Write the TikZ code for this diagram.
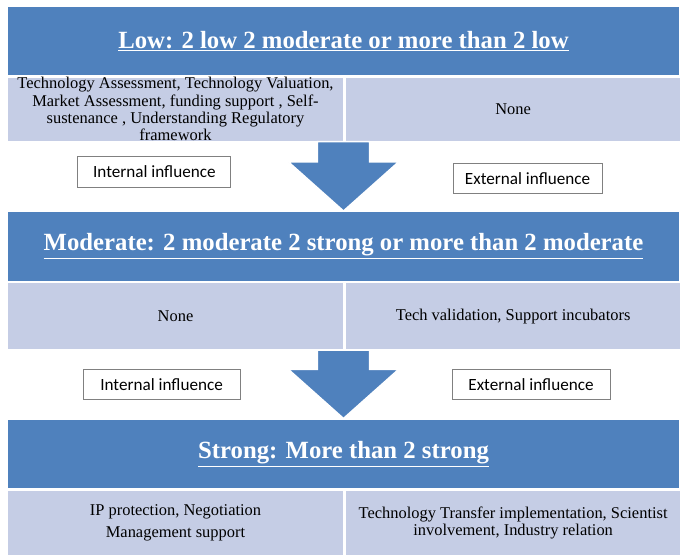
\documentclass[tikz,border=0pt]{standalone}
\usepackage{fontspec}
\setmainfont{Liberation Serif}
\newfontfamily\boxfont{Carlito}
\usetikzlibrary{calc, positioning}
\definecolor{lvhead}{HTML}{4F81BD}
\definecolor{lvrow}{HTML}{C5CDE5}
\definecolor{lvline}{HTML}{808080}
\tikzset{
  every picture/.style={line join=miter},
  level/.style={rectangle, draw=white, line width=0.8pt, fill=lvhead, text=white,
    minimum width=16.825cm, minimum height=1.75cm, inner sep=0pt,
    font=\fontsize{17.6}{20}\selectfont\bfseries},
  cell/.style={rectangle, draw=white, line width=0.8pt, fill=lvrow, align=center,
    inner sep=0pt, font=\fontsize{11.7}{12.3}\selectfont},
  leftcell/.style={cell, minimum width=8.425cm},
  rightcell/.style={cell, minimum width=8.4cm},
  infl/.style={rectangle, draw=lvline, line width=0.6pt, fill=white, inner sep=0pt,
    minimum height=0.76cm, font=\boxfont\fontsize{12.2}{14}\selectfont},
  down/.style={fill=lvhead, draw=white, line width=1pt},
}

\begin{document}
\begin{tikzpicture}
\useasboundingbox (0,0) rectangle (17,13.9);

% ---- levels (headers)
\node[level] (head1) at (8.5875, 12.875) {\underline{Low: 2 low 2 moderate or more than 2 low}};
\node[level] (head2) at (8.5875, 7.7375) {\underline{Moderate: 2 moderate 2 strong or more than 2 moderate}};
\node[level] (head3) at (8.5875, 2.55) {\underline{Strong: More than 2 strong}};

% ---- internal / external cells under each level
\node[leftcell, minimum height=1.6cm, anchor=north west] (row1l) at (head1.south west)
  {Technology Assessment, Technology Valuation,\\Market Assessment, funding support , Self-\\
   sustenance , Understanding Regulatory\\framework};
\node[rightcell, minimum height=1.6cm, anchor=north west] (row1r) at (row1l.north east) {None};
\node[leftcell, minimum height=1.675cm, anchor=north west] (row2l) at (head2.south west) {None};
\node[rightcell, minimum height=1.675cm, anchor=north west] (row2r) at (row2l.north east)
  {Tech validation, Support incubators};
\node[leftcell, minimum height=1.625cm, anchor=north west] (row3l) at (head3.south west)
  {IP protection, Negotiation\\[3pt]Management support};
\node[rightcell, minimum height=1.625cm, anchor=north west] (row3r) at (row3l.north east)
  {Technology Transfer implementation, Scientist\\involvement, Industry relation};

% ---- block arrows from one level to the next
\foreach \a/\b in {row1l/head2, row2l/head3} {
  \draw[down] ($(\b.north |- \a.south) + (-0.65, 0)$) -- ++(1.3, 0)
    -- ($(\b.north) + (0.65, 1.225)$) -- ++(0.725, 0) -- (\b.north)
    -- ++(-1.375, 1.225) -- ++(0.725, 0) -- cycle;
}

% ---- influence labels
\foreach \name/\x/\y/\w/\t in {
  int1/3.86/9.6/3.825/Internal influence,
  ext1/13.19/9.44/3.725/External influence,
  int2/4.04/4.29/3.925/Internal influence,
  ext2/13.275/4.29/3.95/External influence} {
  \node[infl, minimum width=\w cm] (\name) at (\x, \y) {\t};
}

\end{tikzpicture}
\end{document}
